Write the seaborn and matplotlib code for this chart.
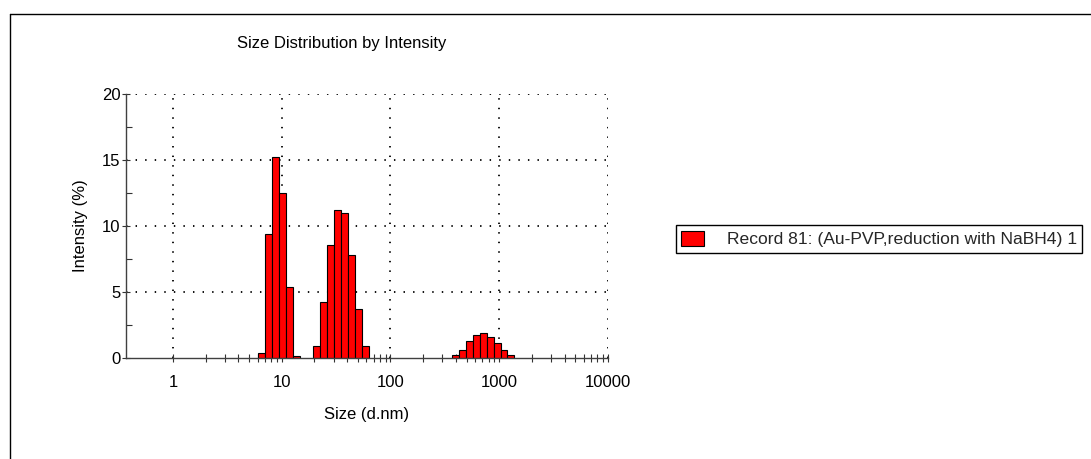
import numpy as np
import pandas as pd
import matplotlib
matplotlib.use("Agg")
import matplotlib.pyplot as plt
import seaborn as sns
from matplotlib.patches import Patch
from matplotlib.lines import Line2D
from matplotlib.ticker import FixedLocator, FixedFormatter, NullFormatter

# ---- data ----
sizes_nm = [6.503, 7.531, 8.721, 10.10, 11.70, 13.54,
            21.04, 24.36, 28.21, 32.67, 37.84, 43.82, 50.75, 58.77,
            396.1, 458.7, 531.2, 615.1, 712.4, 825.0, 955.4, 1106.0, 1281.0]
intensity_pct = [0.35, 9.4, 15.2, 12.5, 5.35, 0.12,
                 0.85, 4.2, 8.55, 11.18, 10.98, 7.8, 3.72, 0.85,
                 0.19, 0.6, 1.25, 1.7, 1.84, 1.55, 1.14, 0.6, 0.22]
peak_id = [1] * 6 + [2] * 8 + [3] * 9
x_ticks = [1, 10, 100, 1000, 10000]
x_tick_labels = ["1", "10", "100", "1000", "10000"]
x_minor = [m * 10 ** k for k in range(0, 4) for m in range(2, 10)]
y_ticks = [0, 5, 10, 15, 20]
y_tick_labels = ["0", "5", "10", "15", "20"]
y_minor = [2.5, 7.5, 12.5, 17.5]
title_text = "Size Distribution by Intensity"
x_label = "Size (d.nm)"
y_label = "Intensity (%)"
series_label = "Record 81: (Au-PVP,reduction with NaBH4) 1"

sns.set_theme(style="white")
plt.rcParams["font.family"] = ["Liberation Sans", "DejaVu Sans"]

W, H = 1091, 459
fig = plt.figure(figsize=(W / 100, H / 100), dpi=100)
fig.patch.set_facecolor("white")
ax = fig.add_axes([126 / W, 1 - 357.7 / H, 482 / W, 263.7 / H])

df = pd.DataFrame({"size": sizes_nm, "intensity": intensity_pct, "peak": peak_id})
for pid, g in df.groupby("peak"):
    logs = np.log10(g["size"].to_numpy())
    step = np.median(np.diff(logs))
    edges = np.concatenate([logs - step / 2, [logs[-1] + step / 2]])
    sns.histplot(data=g, x="size", weights="intensity", bins=edges.tolist(),
                 log_scale=True, stat="count", color="#ff0000",
                 edgecolor="black", linewidth=0.8, alpha=1, ax=ax)

ax.set_xlim(0.37, 10000)
ax.set_ylim(0, 20)
ax.xaxis.set_major_locator(FixedLocator(x_ticks))
ax.xaxis.set_major_formatter(FixedFormatter(x_tick_labels))
ax.xaxis.set_minor_locator(FixedLocator(x_minor))
ax.xaxis.set_minor_formatter(NullFormatter())
ax.yaxis.set_major_locator(FixedLocator(y_ticks))
ax.yaxis.set_major_formatter(FixedFormatter(y_tick_labels))
ax.yaxis.set_minor_locator(FixedLocator(y_minor))

ax.tick_params(axis="x", which="both", direction="inout", length=5.5,
               width=0.8, color="#333333", labelsize=12, pad=9.5, labelcolor="black")
ax.tick_params(axis="y", which="major", direction="inout", length=6,
               width=0.8, color="#333333", labelsize=12, pad=1, labelcolor="black")
ax.tick_params(axis="y", which="minor", direction="in", length=4.3,
               width=0.8, color="#333333")
ax.tick_params(which="both", bottom=True, left=True)

ax.set_axisbelow(True)
ax.grid(True, which="major", color="black", linestyle=(0, (0.8, 4.5)), linewidth=1.3)
# no dotted grid on the baseline (y = 0)
for tick in ax.yaxis.get_major_ticks():
    if tick.get_loc() == 0:
        tick.gridline.set_visible(False)

for s in ["top", "right"]:
    ax.spines[s].set_visible(False)
for s in ["left", "bottom"]:
    ax.spines[s].set_color("#404040")
    ax.spines[s].set_linewidth(1.0)

ax.set_xlabel(x_label, fontsize=12, color="black", labelpad=12.5)
ax.set_ylabel(y_label, fontsize=12, color="black", labelpad=10)

fig.text(341.7 / W, 1 - 43.5 / H, title_text, ha="center", va="center",
         fontsize=12, color="black")

fig.legend(handles=[Patch(facecolor="#ff0000", edgecolor="black", linewidth=0.8)],
           labels=[series_label], loc="upper left",
           bbox_to_anchor=(676 / W, 1 - 225.3 / H), frameon=True, fancybox=False,
           edgecolor="black", framealpha=1, fontsize=12.6, handlelength=1.31,
           handleheight=1.0, handletextpad=1.31, borderpad=0.3, borderaxespad=0)

# outer frame lines (top and left)
fig.add_artist(Line2D([10 / W, 10 / W], [0, 1 - 14 / H], transform=fig.transFigure,
                      color="black", linewidth=1.0))
fig.add_artist(Line2D([10 / W, 1], [1 - 14 / H, 1 - 14 / H], transform=fig.transFigure,
                      color="black", linewidth=1.0))

fig.savefig("out.png", dpi=100, facecolor="white")
